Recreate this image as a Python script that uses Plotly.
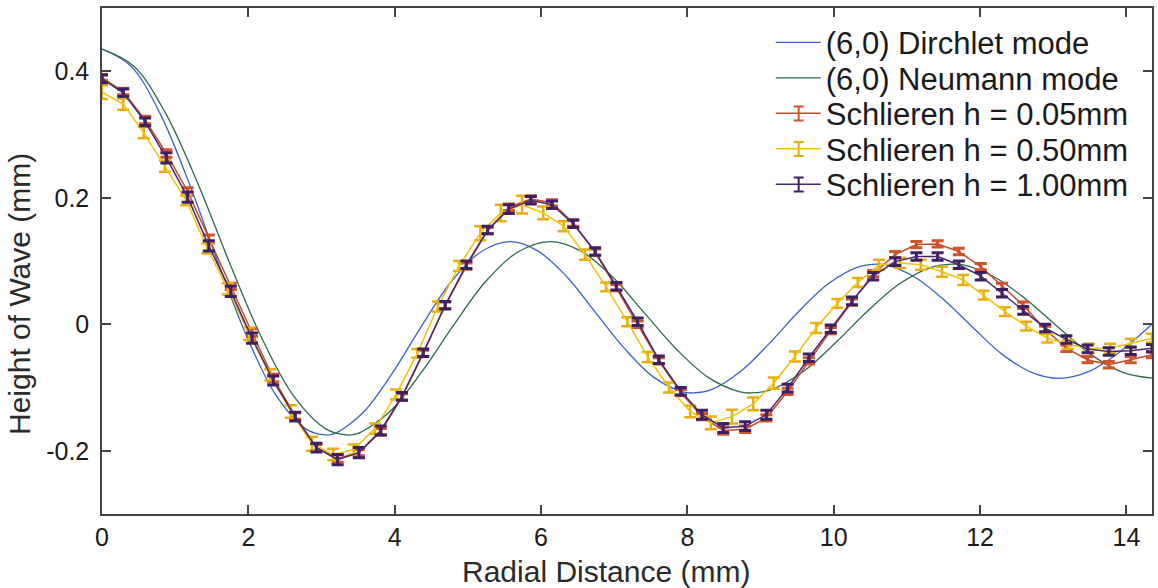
import plotly.graph_objects as go

# ---------------- data ----------------
# theoretical (6,0) Dirichlet mode
dir_x = [0.000, 0.397, 0.794, 1.191, 1.588, 1.985, 2.382, 2.779, 3.043, 3.176, 3.573,
         3.970, 4.367, 4.764, 5.161, 5.571, 5.955, 6.352, 6.749, 7.146, 7.543, 7.940,
         8.077, 8.337, 8.734, 9.131, 9.528, 9.925, 10.322, 10.579, 10.719, 11.116,
         11.513, 11.910, 12.307, 12.704, 13.078, 13.498, 13.895, 14.292, 14.348]
dir_y = [0.435, 0.408, 0.333, 0.223, 0.097, -0.021, -0.113, -0.165, -0.175, -0.173, -0.139,
         -0.077, -0.003, 0.066, 0.113, 0.1305, 0.116, 0.075, 0.018, -0.039, -0.084, -0.107,
         -0.1086, -0.103, -0.074, -0.029, 0.021, 0.064, 0.090, 0.095, 0.094, 0.074,
         0.038, -0.006, -0.048, -0.076, -0.0855, -0.074, -0.045, -0.006, 0.000]

# theoretical (6,0) Neumann mode
neu_x = [0.000, 0.436, 0.872, 1.308, 1.744, 2.180, 2.616, 3.052, 3.341, 3.488, 3.924,
         4.360, 4.796, 5.232, 5.668, 6.118, 6.540, 6.976, 7.412, 7.848, 8.284, 8.720,
         8.871, 9.156, 9.592, 10.028, 10.464, 10.900, 11.336, 11.619, 11.772, 12.208,
         12.644, 13.080, 13.516, 13.952, 14.363]
neu_y = [0.435, 0.408, 0.333, 0.223, 0.097, -0.021, -0.113, -0.165, -0.175, -0.173, -0.139,
         -0.077, -0.003, 0.066, 0.113, 0.1305, 0.116, 0.075, 0.018, -0.039, -0.084, -0.107,
         -0.1086, -0.103, -0.074, -0.029, 0.021, 0.064, 0.090, 0.095, 0.094, 0.074,
         0.038, -0.006, -0.048, -0.076, -0.0855]

# Schlieren measurements, h = 0.05 mm and h = 1.00 mm (same radial sampling)
sch_x = [0.00, 0.29, 0.59, 0.88, 1.17, 1.46, 1.76, 2.05, 2.34, 2.64,
         2.93, 3.22, 3.51, 3.81, 4.10, 4.39, 4.69, 4.98, 5.27, 5.56,
         5.86, 6.15, 6.44, 6.74, 7.03, 7.32, 7.61, 7.91, 8.20, 8.49,
         8.79, 9.08, 9.37, 9.66, 9.96, 10.25, 10.54, 10.84, 11.13, 11.42,
         11.71, 12.01, 12.30, 12.59, 12.89, 13.18, 13.47, 13.76, 14.06, 14.35]
h005_y = [0.390, 0.368, 0.323, 0.270, 0.210, 0.135, 0.060, -0.013, -0.085, -0.145,
          -0.195, -0.212, -0.203, -0.170, -0.115, -0.046, 0.030, 0.092, 0.148, 0.185,
          0.198, 0.192, 0.160, 0.114, 0.058, 0.000, -0.058, -0.108, -0.146, -0.168,
          -0.166, -0.148, -0.106, -0.058, -0.010, 0.035, 0.080, 0.110, 0.126, 0.127,
          0.115, 0.091, 0.060, 0.030, -0.008, -0.038, -0.056, -0.064, -0.056, -0.048]
h005_err = [0.005, 0.005, 0.006, 0.006, 0.006, 0.006, 0.005, 0.006, 0.006, 0.005,
            0.005, 0.006, 0.005, 0.005, 0.005, 0.005, 0.005, 0.005, 0.005, 0.005,
            0.005, 0.005, 0.005, 0.005, 0.005, 0.005, 0.005, 0.005, 0.005, 0.006,
            0.005, 0.005, 0.005, 0.005, 0.005, 0.005, 0.005, 0.005, 0.005, 0.005,
            0.005, 0.005, 0.005, 0.005, 0.005, 0.005, 0.005, 0.005, 0.005, 0.005]
h100_y = [0.388, 0.366, 0.320, 0.263, 0.201, 0.124, 0.052, -0.022, -0.089, -0.146,
          -0.195, -0.214, -0.203, -0.168, -0.114, -0.045, 0.030, 0.094, 0.149, 0.182,
          0.196, 0.189, 0.159, 0.115, 0.060, 0.004, -0.056, -0.106, -0.143, -0.164,
          -0.161, -0.143, -0.101, -0.053, -0.007, 0.037, 0.076, 0.099, 0.107, 0.107,
          0.094, 0.076, 0.049, 0.022, -0.006, -0.024, -0.039, -0.043, -0.042, -0.038]
h100_err = [0.006, 0.006, 0.006, 0.008, 0.008, 0.008, 0.008, 0.008, 0.007, 0.007,
            0.007, 0.008, 0.008, 0.007, 0.006, 0.006, 0.006, 0.006, 0.006, 0.007,
            0.006, 0.006, 0.006, 0.006, 0.006, 0.006, 0.006, 0.006, 0.007, 0.007,
            0.007, 0.007, 0.006, 0.006, 0.006, 0.006, 0.006, 0.006, 0.006, 0.006,
            0.006, 0.006, 0.006, 0.006, 0.006, 0.006, 0.006, 0.006, 0.006, 0.006]

# Schlieren measurement, h = 0.50 mm (its own radial sampling)
h050_x = [0.00, 0.29, 0.57, 0.86, 1.15, 1.44, 1.72, 2.01, 2.30, 2.58,
          2.87, 3.16, 3.44, 3.73, 4.02, 4.31, 4.59, 4.88, 5.17, 5.45,
          5.74, 6.03, 6.31, 6.60, 6.89, 7.18, 7.46, 7.75, 8.04, 8.32,
          8.61, 8.90, 9.18, 9.47, 9.76, 10.05, 10.33, 10.62, 10.91, 11.19,
          11.48, 11.77, 12.05, 12.34, 12.63, 12.92, 13.20, 13.49, 13.78, 14.06, 14.35]
h050_y = [0.367, 0.348, 0.303, 0.250, 0.196, 0.120, 0.056, -0.015, -0.080, -0.138,
          -0.189, -0.206, -0.198, -0.165, -0.111, -0.046, 0.028, 0.092, 0.144, 0.176,
          0.189, 0.176, 0.155, 0.110, 0.059, 0.004, -0.052, -0.100, -0.138, -0.156,
          -0.146, -0.126, -0.093, -0.051, -0.006, 0.033, 0.066, 0.094, 0.097, 0.094,
          0.083, 0.070, 0.046, 0.020, -0.003, -0.022, -0.032, -0.038, -0.038, -0.030, -0.022]
h050_err = [0.011, 0.009, 0.009, 0.009, 0.008, 0.008, 0.009, 0.010, 0.009, 0.010,
            0.011, 0.009, 0.008, 0.008, 0.008, 0.007, 0.008, 0.008, 0.011, 0.013,
            0.014, 0.010, 0.008, 0.008, 0.007, 0.007, 0.008, 0.008, 0.009, 0.010,
            0.011, 0.010, 0.009, 0.008, 0.008, 0.007, 0.007, 0.008, 0.008, 0.008,
            0.008, 0.008, 0.007, 0.007, 0.007, 0.007, 0.007, 0.007, 0.007, 0.007, 0.007]

x_ticks = [0, 2, 4, 6, 8, 10, 12, 14]
x_ticktext = ["0", "2", "4", "6", "8", "10", "12", "14"]
y_ticks = [-0.2, 0, 0.2, 0.4]
y_ticktext = ["-0.2", "0", "0.2", "0.4"]

names = ["(6,0) Dirchlet mode", "(6,0) Neumann mode",
         "Schlieren h = 0.05mm", "Schlieren h = 0.50mm", "Schlieren h = 1.00mm"]

# ---------------- styles ----------------
C_BLUE = "#3a62c8"
C_GREEN = "#2e6a48"
C_RED = "#c44a2a"
C_YEL = "#f0c208"
C_PUR = "#47266e"
E_RED = "#d2542a"
E_YEL = "#e8ae10"
E_PUR = "#3e1f62"
FONT = "Liberation Sans, Arial, Helvetica, sans-serif"
LEG_KEYS = ["legend", "legend2", "legend3", "legend4", "legend5"]
LEG_X = 0.6369
LEG_Y = [0.9315, 0.8614, 0.7913, 0.7212, 0.6511]
GLYPH_X = 0.6635

fig = go.Figure()
fig.add_trace(go.Scatter(x=dir_x, y=dir_y, mode="lines", name=names[0], legend=LEG_KEYS[0],
                         line=dict(color=C_BLUE, width=1.3, shape="spline", smoothing=1.0)))
fig.add_trace(go.Scatter(x=neu_x, y=neu_y, mode="lines", name=names[1], legend=LEG_KEYS[1],
                         line=dict(color=C_GREEN, width=1.3, shape="spline", smoothing=1.0)))

series = [(sch_x, h005_y, h005_err, C_RED, E_RED, names[2], 3, LEG_KEYS[2]),
          (h050_x, h050_y, h050_err, C_YEL, E_YEL, names[3], 2.5, LEG_KEYS[3]),
          (sch_x, h100_y, h100_err, C_PUR, E_PUR, names[4], 3, LEG_KEYS[4])]
for xs, ys, es, col, ecol, nm, thick, lg in series:
    fig.add_trace(go.Scatter(
        x=xs, y=ys, mode="lines", name=nm, legend=lg,
        line=dict(color=col, width=1.5),
        error_y=dict(type="data", array=es, visible=True, color=ecol,
                     thickness=thick, width=6),
    ))

legends = {}
for key, ly in zip(LEG_KEYS, LEG_Y):
    legends[key] = dict(x=LEG_X, y=ly, xanchor="left", yanchor="middle",
                        bgcolor="rgba(0,0,0,0)", borderwidth=0, itemwidth=45,
                        font=dict(family=FONT, size=31, color="#1a1a1a"))

# small error-bar glyphs in the legend keys of the measured series
shapes = []
for ly, ecol in zip(LEG_Y[2:], [E_RED, E_YEL, E_PUR]):
    shapes.append(dict(type="path", xref="paper", yref="paper",
                       xsizemode="pixel", ysizemode="pixel",
                       xanchor=GLYPH_X, yanchor=ly,
                       path="M-5,-7 H5 M0,-7 V7 M-5,7 H5",
                       line=dict(color=ecol, width=2)))

fig.update_layout(
    width=1158, height=588,
    margin=dict(l=102, r=4, t=8, b=74),
    paper_bgcolor="white", plot_bgcolor="white",
    font=dict(family=FONT, size=25, color="#1a1a1a"),
    showlegend=True,
    shapes=shapes,
    xaxis=dict(range=[0, 14.35], tickvals=x_ticks, ticktext=x_ticktext,
               showgrid=False, zeroline=False, showline=True, linecolor="#444",
               linewidth=1.5, mirror="ticks", ticks="inside", ticklen=9,
               tickwidth=1.5, tickcolor="#444",
               tickfont=dict(family=FONT, size=25, color="#1a1a1a")),
    yaxis=dict(range=[-0.3, 0.5], tickvals=y_ticks, ticktext=y_ticktext,
               showgrid=False, zeroline=False, showline=True, linecolor="#444",
               linewidth=1.5, mirror="ticks", ticks="inside", ticklen=9,
               tickwidth=1.5, tickcolor="#444", ticklabelstandoff=6,
               tickfont=dict(family=FONT, size=25, color="#1a1a1a")),
    annotations=[
        dict(text="Radial Distance (mm)", xref="paper", yref="paper",
             x=0.480, y=-0.114, xanchor="center", yanchor="middle", showarrow=False,
             font=dict(family=FONT, size=30, color="#2a2a2a")),
        dict(text="Height of Wave (mm)", xref="paper", yref="paper",
             x=-0.078, y=0.435, xanchor="center", yanchor="middle", showarrow=False,
             textangle=-90, font=dict(family=FONT, size=30, color="#2a2a2a")),
    ],
    **legends,
)

fig.write_html("out.html")
